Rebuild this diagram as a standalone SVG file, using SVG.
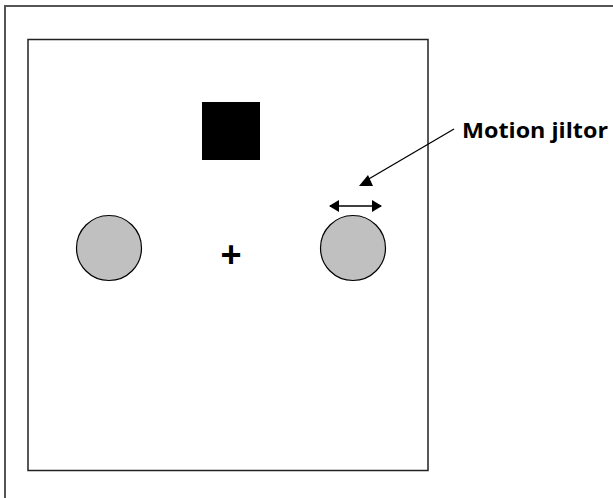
<svg xmlns="http://www.w3.org/2000/svg" width="613" height="498" viewBox="0 0 613 498">
  <style>
    .frame { fill: none; stroke: #555; stroke-width: 2; }
    .panel { fill: #fff; stroke: #222; stroke-width: 1.5; }
    .disc { fill: #c0c0c0; stroke: #000; stroke-width: 1.2; }
    .lbl { font-family: "Open Sans", Lato, sans-serif; font-weight: bold; font-size: 22px; fill: #000; }
    .cross { font-family: "Liberation Sans", Arial, sans-serif; font-weight: bold; font-size: 36px; fill: #000; }
    .conn { stroke: #000; stroke-width: 1.3; fill: none; }
  </style>
  <defs>
    <marker id="head" viewBox="0 0 10 12" refX="9" refY="6" markerWidth="11" markerHeight="12" markerUnits="userSpaceOnUse" orient="auto-start-reverse">
      <path d="M0,0 L10,6 L0,12 Z" fill="#000"/>
    </marker>
  </defs>
  <rect width="613" height="498" fill="#fff"/>
  <!-- outer frame: only top and left edges fall inside the canvas -->
  <rect class="frame" x="5" y="6" width="620" height="510"/>
  <g id="display">
    <rect class="panel" x="28" y="39.5" width="400" height="431"/>
  </g>
  <g id="square">
    <rect x="202" y="102" width="58" height="58" fill="#000"/>
  </g>
  <g id="left-disc">
    <circle class="disc" cx="109" cy="248" r="32.5"/>
  </g>
  <g id="fixation">
    <text class="cross" x="231" y="267" text-anchor="middle">+</text>
  </g>
  <g id="right-disc">
    <circle class="disc" cx="353" cy="248" r="32.5"/>
  </g>
  <g id="label">
    <text class="lbl" x="462" y="137.5" textLength="146" lengthAdjust="spacingAndGlyphs">Motion jiltor</text>
  </g>
  <g id="connectors">
    <line class="conn" x1="454" y1="129" x2="367" y2="180"/>
    <polygon points="359,186 373,186 368,175" fill="#000"/>
    <line class="conn" x1="330" y1="206" x2="381" y2="206" marker-start="url(#head)" marker-end="url(#head)"/>
  </g>
</svg>
